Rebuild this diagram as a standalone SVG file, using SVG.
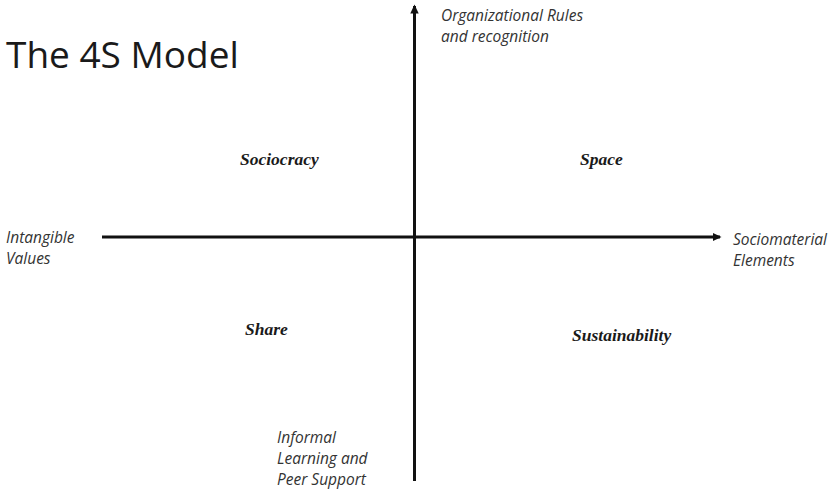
<svg xmlns="http://www.w3.org/2000/svg" width="833" height="491" viewBox="0 0 833 491">
<style>
.title{font-family:"Open Sans","Liberation Sans",sans-serif;font-size:37px;fill:#1a1a1a}
.lab{font-family:"Open Sans","Liberation Sans",sans-serif;font-style:italic;font-size:15.5px;fill:#333}
.q{font-family:"Liberation Serif","Times New Roman",serif;font-style:italic;font-weight:bold;font-size:17.5px;fill:#1a1a1a}
.axis{stroke:#111;stroke-width:3;fill:none}
</style>
<defs>
<marker id="ah" markerWidth="4" markerHeight="4" refX="2.5" refY="2" orient="auto" markerUnits="strokeWidth">
<path d="M0,0.6 L3,2 L0,3.4 Z" fill="#111"/>
</marker>
</defs>
<rect width="833" height="491" fill="#fff"/>
<text class="title" x="6" y="68">The 4S Model</text>
<g id="connectors">
<line class="axis" x1="102" y1="237" x2="720" y2="237" marker-end="url(#ah)"/>
<line class="axis" x1="414.5" y1="481" x2="414.5" y2="6" marker-end="url(#ah)"/>
</g>
<g id="top-label"><text class="lab" x="441" y="21">Organizational Rules</text><text class="lab" x="441" y="42">and recognition</text></g>
<g id="left-label"><text class="lab" x="6" y="243">Intangible</text><text class="lab" x="6" y="264">Values</text></g>
<g id="right-label"><text class="lab" x="733" y="245">Sociomaterial</text><text class="lab" x="733" y="266">Elements</text></g>
<g id="bottom-label"><text class="lab" x="277" y="443">Informal</text><text class="lab" x="277" y="464">Learning and</text><text class="lab" x="277" y="485">Peer Support</text></g>
<g id="sociocracy"><text class="q" x="240" y="165">Sociocracy</text></g>
<g id="space"><text class="q" x="580" y="165">Space</text></g>
<g id="share"><text class="q" x="245" y="335">Share</text></g>
<g id="sustainability"><text class="q" x="572" y="341">Sustainability</text></g>
</svg>
